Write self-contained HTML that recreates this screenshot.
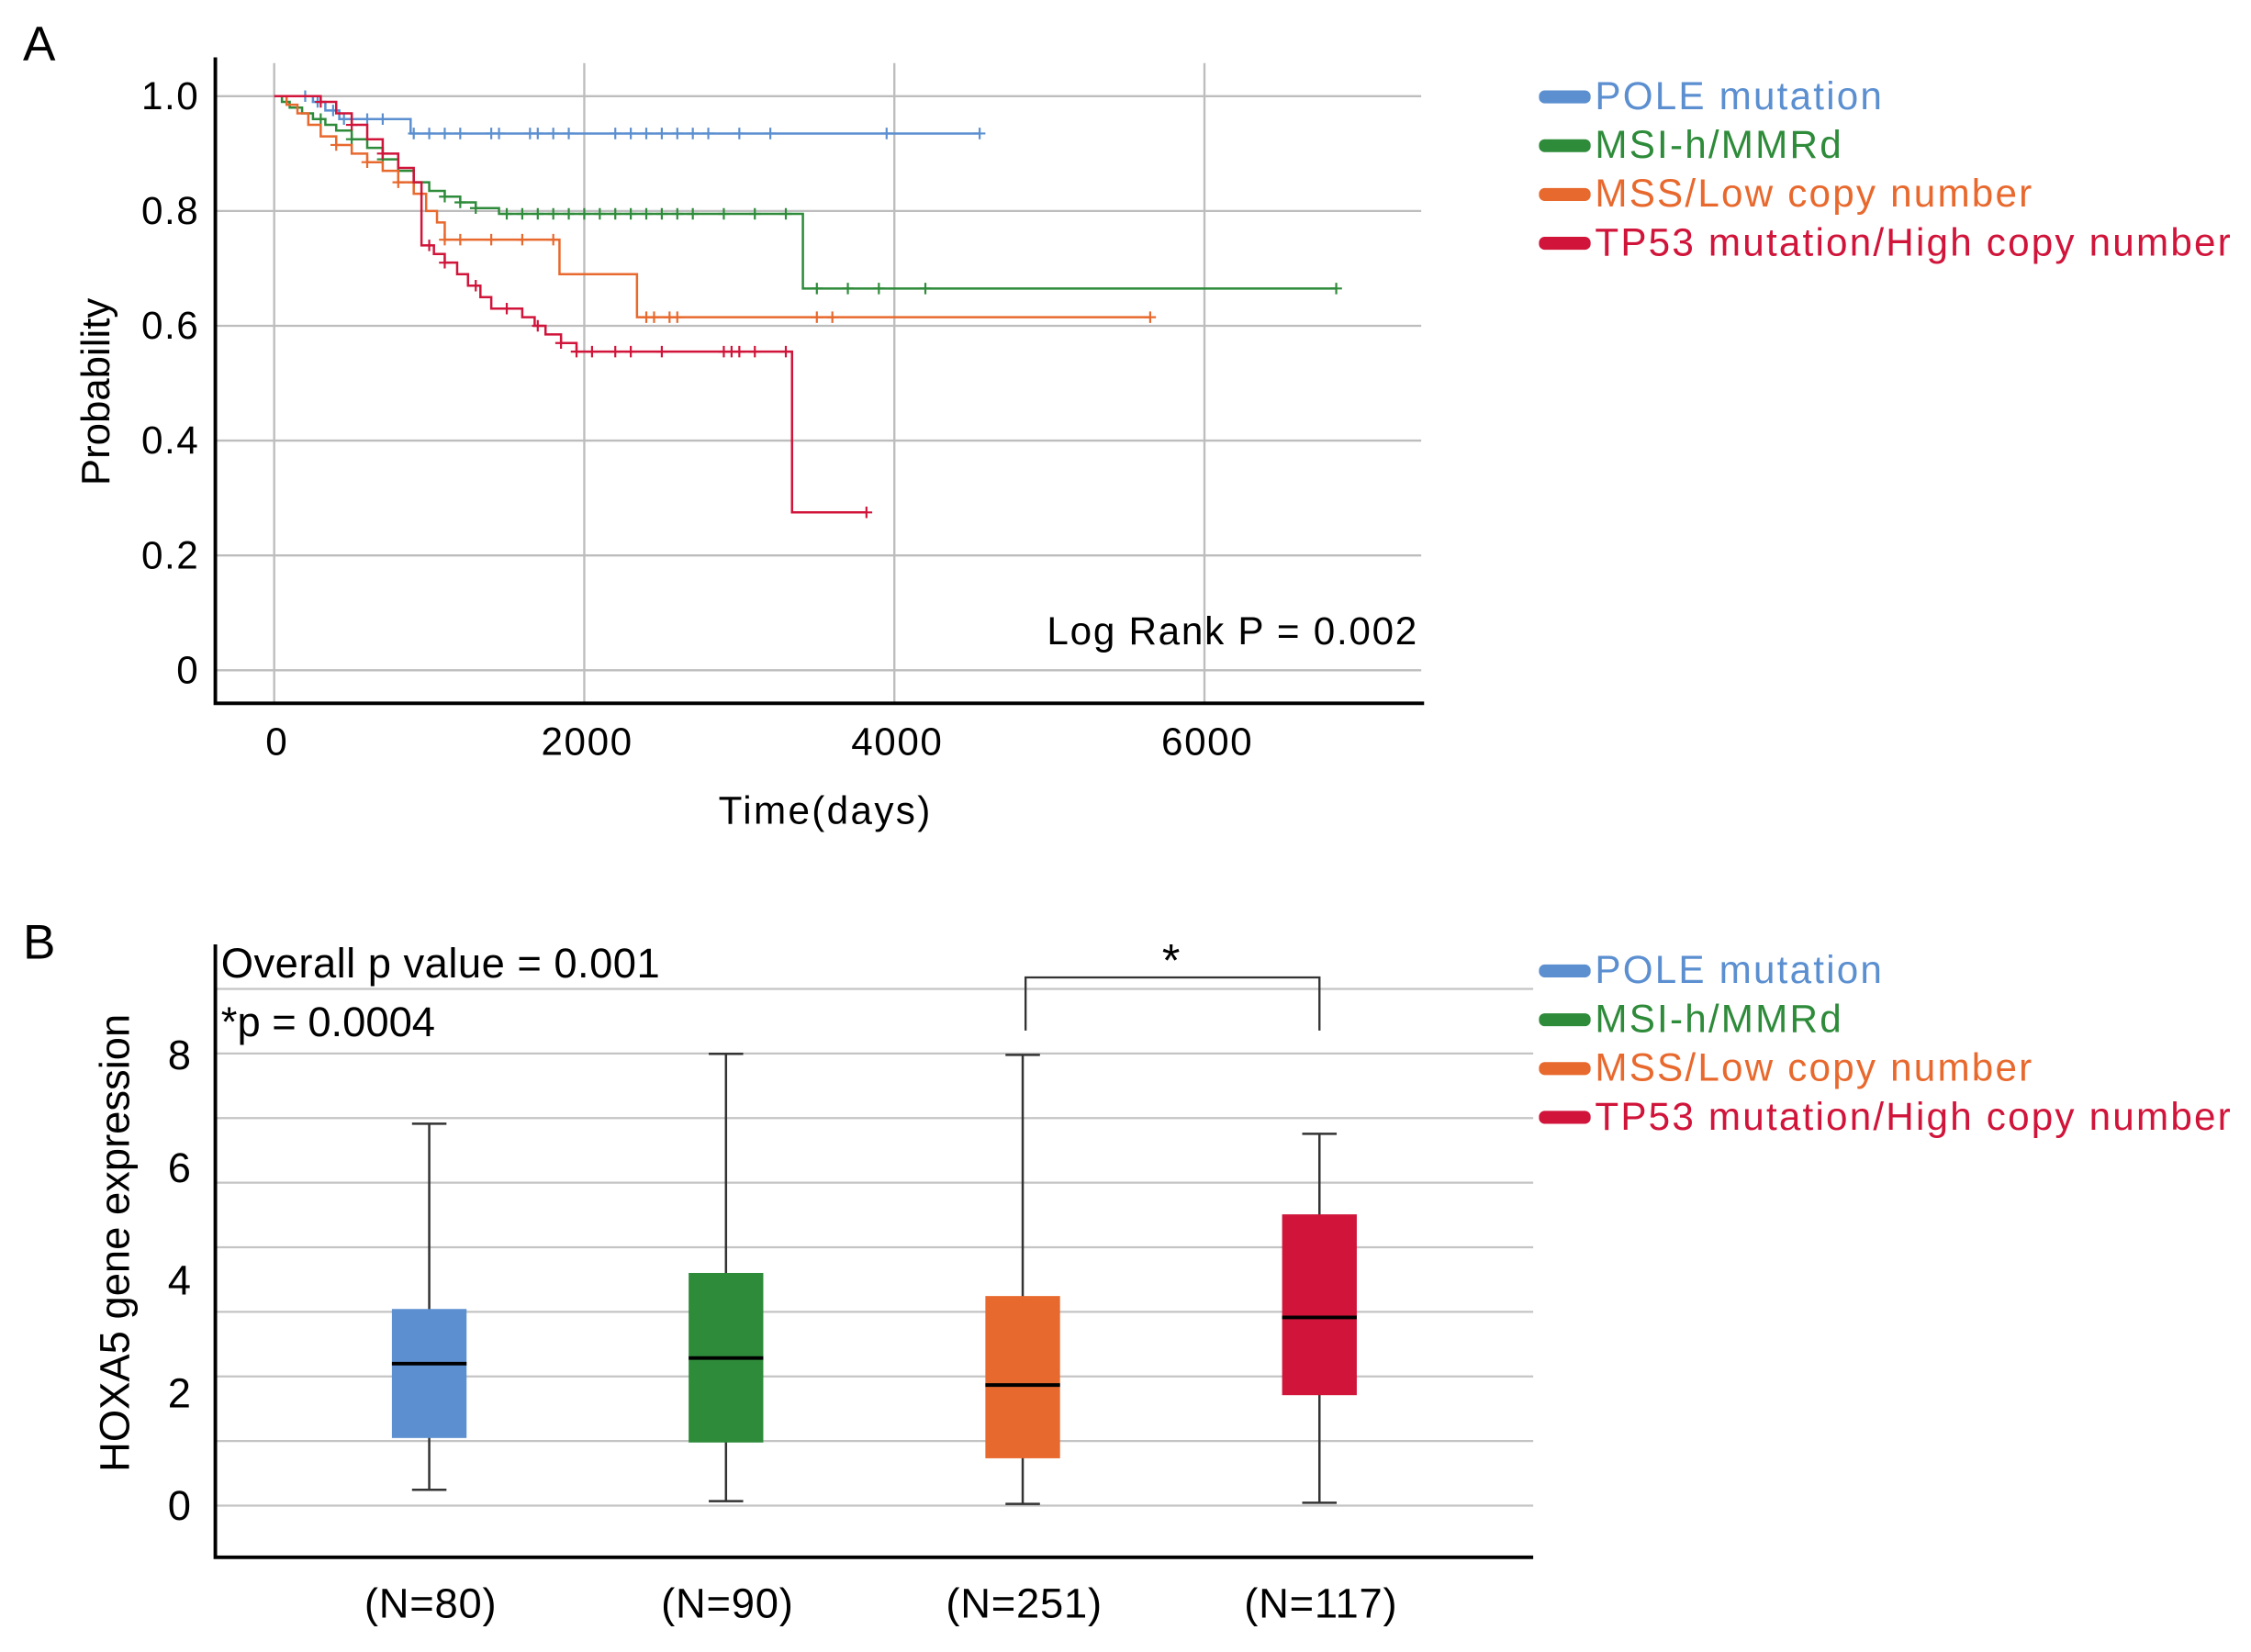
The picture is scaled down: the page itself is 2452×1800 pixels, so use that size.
<!DOCTYPE html>
<html><head><meta charset="utf-8"><style>
html,body{margin:0;padding:0;background:#fff}
svg{display:block;font-family:"Liberation Sans",Arial,sans-serif}
</style></head><body>
<svg id="fig" width="2452" height="1800" viewBox="0 0 1568 1151" preserveAspectRatio="none" xmlns="http://www.w3.org/2000/svg">
<g id="panelA"></g>
<g id="panelB"></g>
</svg>
<script>
// ---------- Panel A data ----------
const kmGroups = ["POLE mutation","MSI-h/MMRd","MSS/Low copy number","TP53 mutation/High copy number"];
const kmColors = ["#5b8fd0","#2e8b3a","#e8692e","#d0143a"];
const poleSteps = [[0,1],[250,0.99],[330,0.975],[420,0.96],[880,0.935],[4550,0.935]];
const msiSteps = [[0,1],[50,0.99],[100,0.98],[180,0.97],[250,0.96],[330,0.95],[400,0.94],[500,0.925],[600,0.91],[700,0.89],[800,0.87],[900,0.85],[1000,0.835],[1100,0.825],[1200,0.815],[1300,0.805],[1450,0.795],[3400,0.795],[3410,0.665],[6850,0.665]];
const mssSteps = [[0,1],[80,0.985],[150,0.97],[220,0.95],[300,0.93],[400,0.915],[500,0.9],[600,0.885],[700,0.87],[800,0.85],[900,0.83],[980,0.8],[1050,0.78],[1100,0.75],[1830,0.75],[1840,0.69],[2330,0.69],[2340,0.615],[5650,0.615]];
const tp53Steps = [[0,1],[300,0.99],[400,0.97],[500,0.95],[600,0.925],[700,0.9],[800,0.875],[900,0.85],[950,0.74],[1030,0.725],[1100,0.71],[1180,0.69],[1250,0.67],[1330,0.65],[1400,0.63],[1600,0.615],[1680,0.6],[1750,0.585],[1850,0.57],[1950,0.555],[3330,0.555],[3340,0.275],[3820,0.275]];
const poleCensor = [200,280,380,450,500,600,700,900,1000,1100,1200,1400,1450,1650,1700,1800,1900,2200,2300,2400,2500,2600,2700,2800,3000,3200,3950,4550];
const msiCensor = [300,500,700,900,1100,1200,1300,1500,1600,1700,1800,1900,2000,2100,2200,2300,2400,2500,2600,2700,2900,3100,3300,3500,3700,3900,4200,6850];
const mssCensor = [400,600,800,1100,1200,1400,1600,1800,2400,2450,2550,2600,3500,3600,5650];
const tp53Censor = [300,500,700,1000,1100,1300,1500,1700,1850,1950,2050,2200,2300,2500,2900,2950,3000,3100,3300,3820];
const kmXTicks = [0,2000,4000,6000];
const kmYTicks = [0,0.2,0.4,0.6,0.8,1.0];
const kmYLabels = ["0","0.2","0.4","0.6","0.8","1.0"];

// ---------- Panel B data ----------
const boxLabels = ["(N=80)","(N=90)","(N=251)","(N=117)"];
const boxMin = [0.28,0.08,0.03,0.05];
const boxQ1 = [1.2,1.12,0.84,1.96];
const boxMed = [2.52,2.62,2.14,3.34];
const boxQ3 = [3.49,4.13,3.72,5.17];
const boxMax = [6.78,8.02,8.0,6.6];
const boxYTicks = [0,2,4,6,8];
const boxGrid = [0,1.1465,2.293,3.4395,4.586,5.7325,6.879,8.0255,9.172];

const NS="http://www.w3.org/2000/svg";
function mk(parent,tag,attrs,text){const e=document.createElementNS(NS,tag);for(const k in attrs)e.setAttribute(k,attrs[k]);if(text!==undefined)e.textContent=text;parent.appendChild(e);return e;}
const A=document.getElementById('panelA'), B=document.getElementById('panelB');

const xA=d=>191+d*0.108;
const yA=p=>467-p*400;

let t=mk(A,'text',{x:16,y:42,'font-size':34});
t.textContent='A';
kmXTicks.forEach(v=>{const l=mk(A,'line',{x1:xA(v),x2:xA(v),y1:44,y2:490,stroke:'#bdbdbd','stroke-width':1.5});

const tx=mk(A,'text',{x:xA(v)+2,y:526,'font-size':27,'letter-spacing':1,'text-anchor':'middle'},String(v));
});
kmYTicks.forEach((v,i)=>{const l=mk(A,'line',{x1:150,x2:990,y1:yA(v),y2:yA(v),stroke:'#bdbdbd','stroke-width':1.5});

const tx=mk(A,'text',{x:139,y:yA(v)+9,'font-size':27,'letter-spacing':1,'text-anchor':'end'},kmYLabels[i]);
});
let ax=mk(A,'path',{d:'M150 40 V490 H992',fill:'none',stroke:'#000','stroke-width':2.5});

t=mk(A,'text',{x:0,y:0,'font-size':28,'text-anchor':'middle',transform:'translate(76 273) rotate(-90)'},'Probability');

t=mk(A,'text',{x:575,y:574,'font-size':27,'letter-spacing':1.5,'text-anchor':'middle'},'Time(days)');

t=mk(A,'text',{x:988,y:449,'font-size':27,'letter-spacing':1.1,'text-anchor':'end'},'Log Rank P = 0.002');


const allSteps=[poleSteps,msiSteps,mssSteps,tp53Steps], allCens=[poleCensor,msiCensor,mssCensor,tp53Censor];
const kmNames=['pole-curve','msi-curve','mss-curve','tp53-curve'];
function survAt(steps,d){let s=steps[0][1];for(const p of steps){if(p[0]<=d)s=p[1];}return s;}
allSteps.forEach((steps,gi)=>{
  let d='M'+xA(steps[0][0])+' '+yA(steps[0][1]);
  for(let i=1;i<steps.length;i++){d+=' H'+xA(steps[i][0])+' V'+yA(steps[i][1]);}
  const p=mk(A,'path',{d:d,fill:'none',stroke:kmColors[gi],'stroke-width':1.6});
  
  allCens[gi].forEach(c=>{const cx=xA(c),cy=yA(survAt(steps,c));
    const m=mk(A,'path',{d:`M${cx} ${cy-4} V${cy+4} M${cx-4} ${cy} H${cx+4}`,stroke:kmColors[gi],'stroke-width':1.4});
    });
});

function legend(parent,y0){
  kmGroups.forEach((g,i)=>{const y=y0+i*34;
    const r=mk(parent,'rect',{x:1072,y:y-4,width:36,height:9,rx:4,fill:kmColors[i]});
    
    const tx=mk(parent,'text',{x:1111,y:y+9,'font-size':27,'letter-spacing':1.4,fill:kmColors[i]},g);
    });
}
legend(A,67);

// ---------- Panel B ----------
const yB=v=>1049-v*39.25;
const xB=i=>299+i*206.7;
t=mk(B,'text',{x:16,y:668,'font-size':34},'B');

boxGrid.forEach(v=>{const l=mk(B,'line',{x1:150,x2:1068,y1:yB(v),y2:yB(v),stroke:'#c4c4c4','stroke-width':1.5});
});
boxYTicks.forEach(v=>{const tx=mk(B,'text',{x:133,y:yB(v)+10,'font-size':29,'text-anchor':'end'},String(v));
});
ax=mk(B,'path',{d:'M150 658 V1085 H1068',fill:'none',stroke:'#000','stroke-width':2.5});

t=mk(B,'text',{x:0,y:0,'font-size':29,'text-anchor':'middle',transform:'translate(90 866) rotate(-90)'},'HOXA5 gene expression');

t=mk(B,'text',{x:154,y:681,'font-size':29,'letter-spacing':0.3},'Overall p value = 0.001');

t=mk(B,'text',{x:154,y:722,'font-size':29},'*p = 0.0004');

const br=mk(B,'path',{d:`M${xB(2)+2} 718 V681 H${xB(3)} V718`,fill:'none',stroke:'#333','stroke-width':1.5});

t=mk(B,'text',{x:(xB(2)+xB(3))/2,y:680,'font-size':32,'text-anchor':'middle'},'*');

boxLabels.forEach((lab,i)=>{const cx=xB(i);
  const w=mk(B,'path',{d:`M${cx} ${yB(boxMax[i])} V${yB(boxMin[i])} M${cx-12} ${yB(boxMax[i])} H${cx+12} M${cx-12} ${yB(boxMin[i])} H${cx+12}`,stroke:'#333','stroke-width':1.6});
  
  const r=mk(B,'rect',{x:cx-26,y:yB(boxQ3[i]),width:52,height:yB(boxQ1[i])-yB(boxQ3[i]),fill:kmColors[i]});
  
  const m=mk(B,'line',{x1:cx-26,x2:cx+26,y1:yB(boxMed[i]),y2:yB(boxMed[i]),stroke:'#000','stroke-width':2.5});
  
  const tx=mk(B,'text',{x:cx+1,y:1127,'font-size':29,'letter-spacing':0.5,'text-anchor':'middle'},lab);
  
});
legend(B,676);
</script>
</body></html>
